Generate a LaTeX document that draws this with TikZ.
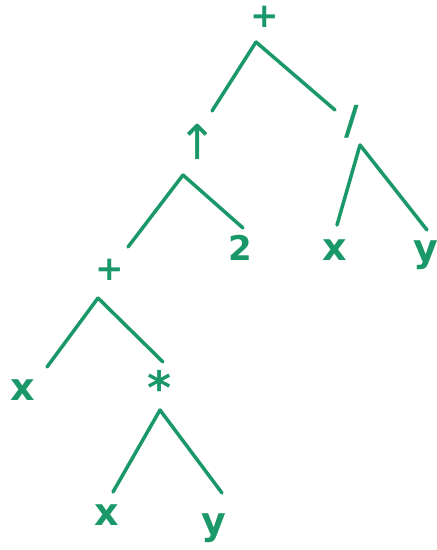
\documentclass[tikz,border=0pt]{standalone}
\usepackage{fontspec}
\setmainfont{DejaVu Sans}
\definecolor{ink}{RGB}{26,152,106}

\begin{document}
\begin{tikzpicture}[
  x=1pt, y=-1pt,
  sym/.style={text=ink, inner sep=0pt, font=\fontsize{34}{34}\selectfont\bfseries},
  var/.style={text=ink, inner sep=0pt, font=\fontsize{38}{38}\selectfont\bfseries},
  edge/.style={draw=ink, line width=3.5pt, line cap=round}
]
\useasboundingbox (0,0) rectangle (437,550);

% operators
\node[sym] (plusA) at (265,17) {+};
\node[sym, font=\fontsize{48}{48}\selectfont] (pow) at (198,142) {↑};
\node[sym, font=\fontsize{40}{40}\selectfont\bfseries] (div) at (352,122) {/};
\node[sym] (plusB) at (110,270) {+};
\node[sym, font=\fontsize{46}{46}\selectfont\bfseries] (star) at (160,387) {*};

% leaves
\node[sym] (two) at (240,248) {2};
\node[var] (xa) at (335,250) {x};
\node[var] (ya) at (426,255) {y};
\node[var] (xb) at (23,390) {x};
\node[var] (xc) at (107,515) {x};
\node[var] (yc) at (214,528) {y};

% apex of each fork
\coordinate (plusA-top) at (256,42);
\coordinate (pow-top) at (183,175);
\coordinate (div-top) at (360,145);
\coordinate (plusB-top) at (98,298);
\coordinate (star-top) at (160,410);

\draw[edge] (plusA-top) -- ([shift={(14,-31)}]pow.center);
\draw[edge] (plusA-top) -- ([shift={(-17,-12)}]div.center);
\draw[edge] (pow-top) -- ([shift={(18,-23)}]plusB.center);
\draw[edge] (pow-top) -- ([shift={(3,-20)}]two.center);
\draw[edge] (div-top) -- ([shift={(2,-25)}]xa.center);
\draw[edge] (div-top) -- ([shift={(1,-25)}]ya.center);
\draw[edge] (plusB-top) -- ([shift={(24,-23)}]xb.center);
\draw[edge] (plusB-top) -- ([shift={(3,-25)}]star.center);
\draw[edge] (star-top) -- ([shift={(6,-23)}]xc.center);
\draw[edge] (star-top) -- ([shift={(8,-35)}]yc.center);

\end{tikzpicture}
\end{document}
